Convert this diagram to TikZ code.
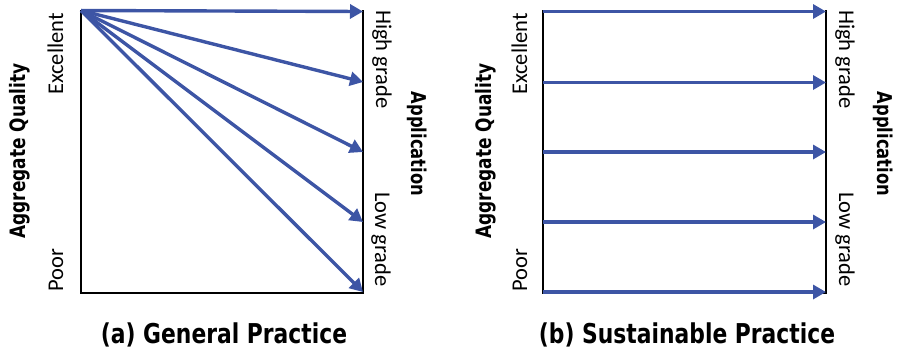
\documentclass[tikz,border=0pt]{standalone}
\usepackage{fontspec}
\setmainfont{Carlito}
\newfontfamily\boldlab[FakeStretch=0.8]{DejaVu Sans Bold}
\usetikzlibrary{arrows.meta}
\definecolor{arrowblue}{RGB}{61,85,165}
\tikzset{
  axisline/.style={draw=black,line width=2.6pt},
  flow/.style={draw=arrowblue,line width=3.4pt,-{Triangle[length=13pt,width=14pt]}},
  tick/.style={font=\fontsize{22.5}{26}\selectfont,inner sep=0pt},
  axlab/.style={font=\boldlab\fontsize{21.2}{24}\selectfont,inner sep=0pt},
  applab/.style={font=\boldlab\fontsize{20.4}{24}\selectfont,inner sep=0pt},
  caption/.style={font=\boldlab\fontsize{27.3}{30}\selectfont,inner sep=0pt},
}
\begin{document}
\begin{tikzpicture}[x=1pt,y=-1pt]
\useasboundingbox (0,0) rectangle (901,349);
% ---------- panel (a)
\coordinate (aTL) at (81,10);
\coordinate (aBL) at (81,293);
\coordinate (aBR) at (363,293);
\coordinate (aTR) at (363,10);
\draw[axisline] (aTL) -- (aBL) -- (aBR) -- (aTR);
\coordinate (aS) at (81,10.5);
\coordinate (a1) at (363,11.5);
\coordinate (a2) at (363,82);
\coordinate (a3) at (363,152);
\coordinate (a4) at (363,222);
\coordinate (a5) at (363,292);
\foreach \t in {a1,a2,a3,a4,a5} \draw[flow] (aS) -- (\t);
\node[tick,rotate=90,anchor=base east] (aexc) at (63,13) {Excellent};
\node[tick,rotate=90,anchor=base west] (apoor) at (63,292) {Poor};
\node[axlab,rotate=90,anchor=base] (aaq) at (25,151) {Aggregate Quality};
\node[tick,rotate=-90,anchor=base west] (ahigh) at (376,10) {High grade};
\node[tick,rotate=-90,anchor=base west] (alow) at (375,192) {Low grade};
\node[applab,rotate=-90,anchor=base] (aapp) at (411,144) {Application};
\node[caption,anchor=base] (acap) at (224,343) {(a) General Practice};
% ---------- panel (b)
\coordinate (bTL) at (543,10);
\coordinate (bBL) at (543,293);
\coordinate (bBR) at (826,293);
\coordinate (bTR) at (826,10);
\draw[axisline] (bTL) -- (bBL) -- (bBR) -- (bTR);
\foreach \y [count=\i] in {11.5,82.5,152,222,292} {
  \coordinate (bs\i) at (543,\y);
  \coordinate (be\i) at (826,\y);
  \draw[flow] (bs\i) -- (be\i);
}
\node[tick,rotate=90,anchor=base east] (bexc) at (527,13) {Excellent};
\node[tick,rotate=90,anchor=base west] (bpoor) at (527,292) {Poor};
\node[axlab,rotate=90,anchor=base] (baq) at (491,151) {Aggregate Quality};
\node[tick,rotate=-90,anchor=base west] (bhigh) at (839,10) {High grade};
\node[tick,rotate=-90,anchor=base west] (blow) at (839,192) {Low grade};
\node[applab,rotate=-90,anchor=base] (bapp) at (877,144) {Application};
\node[caption,anchor=base] (bcap) at (687,343) {(b) Sustainable Practice};
\end{tikzpicture}
\end{document}
